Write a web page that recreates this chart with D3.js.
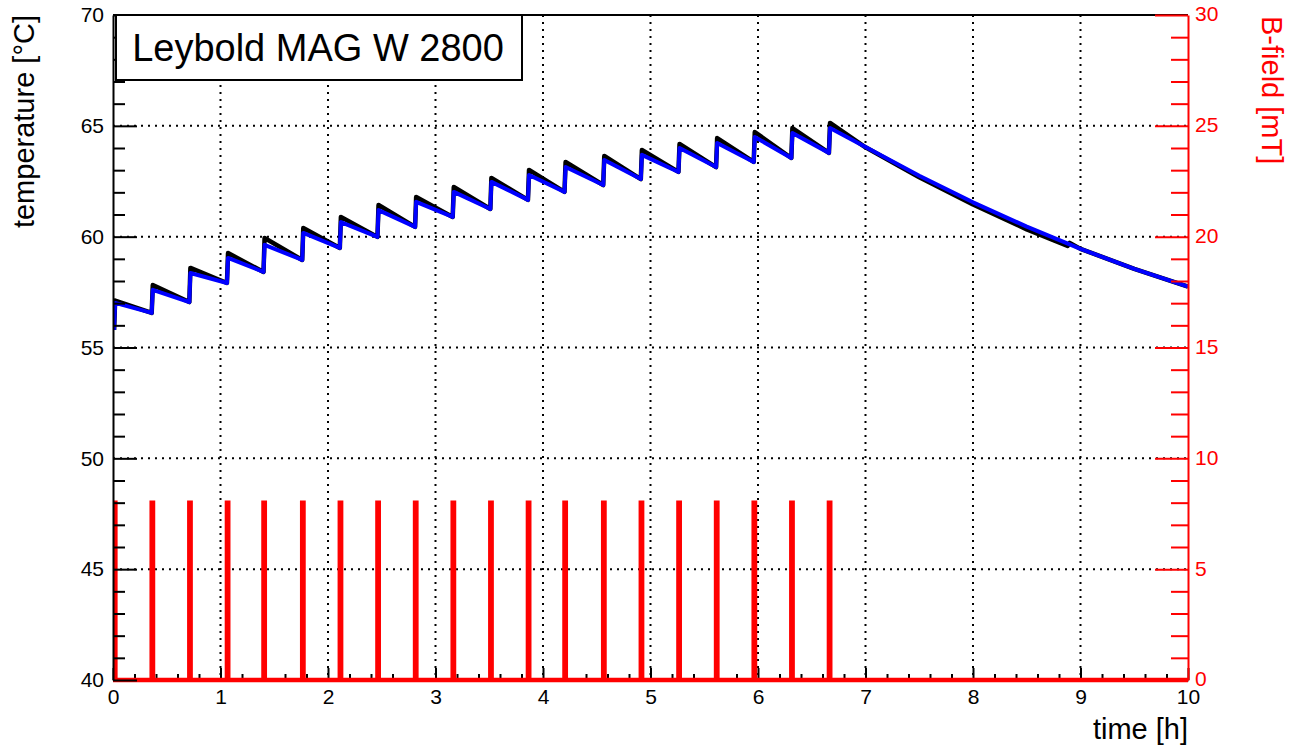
<!DOCTYPE html>
<html><head><meta charset="utf-8">
<script src="https://cdn.jsdelivr.net/npm/d3@7"></script>
<style>
body{margin:0;background:#fff;}
svg text{font-family:"Liberation Sans",Arial,Helvetica,sans-serif;}
</style>
</head><body>
<svg id="chart" width="1289" height="747"></svg>
<script>
// ---- data ----
const pulseTimes = [0.01, 0.36, 0.71, 1.06, 1.40, 1.76, 2.11, 2.46, 2.81, 3.16,
                    3.51, 3.86, 4.20, 4.56, 4.91, 5.26, 5.61, 5.96, 6.31, 6.66];
const pulseField = [8, 8, 8, 8, 8, 8, 8, 8, 8, 8, 8, 8, 8, 8, 8, 8, 8, 8, 8, 8]; // mT
const tempBeforePulse = [55.79, 56.56, 57.05, 57.91, 58.41, 58.95, 59.49, 59.99, 60.44, 60.89,
                         61.25, 61.66, 62.02, 62.33, 62.60, 62.92, 63.14, 63.37, 63.55, 63.78];
const fitAfterPulse   = [57.01, 57.60, 58.36, 59.04, 59.63, 60.17, 60.66, 61.20, 61.57, 62.02,
                         62.47, 62.78, 63.14, 63.46, 63.69, 64.00, 64.23, 64.50, 64.68, 64.90];
const measPeak        = [57.12, 57.82, 58.59, 59.26, 59.94, 60.39, 60.89, 61.43, 61.79, 62.24,
                         62.65, 63.01, 63.37, 63.64, 63.91, 64.18, 64.45, 64.72, 64.90, 65.13];
const coolTimes = [7.0, 7.5, 8.0, 8.5, 9.0, 9.5, 10.0];
const coolFit   = [64.05, 62.75, 61.55, 60.45, 59.45, 58.55, 57.75];
const coolMeasTimes = [7.0, 7.5, 8.0, 8.5, 8.88, 8.9, 9.0, 9.5, 10.0];
const coolMeas      = [64.03, 62.68, 61.45, 60.33, 59.58, 59.72, 59.45, 58.55, 57.75];

const timeTicks  = [0, 1, 2, 3, 4, 5, 6, 7, 8, 9, 10];
const tempTicks  = [40, 45, 50, 55, 60, 65, 70];
const fieldTicks = [0, 5, 10, 15, 20, 25, 30];
const titleText = "Leybold MAG W 2800";

// ---- layout ----
const L = 113, R = 1188, T = 15, B = 680;
const svg = d3.select("#chart");
const x = d3.scaleLinear().domain([0, 10]).range([L, R]);
const y = d3.scaleLinear().domain([40, 70]).range([B, T]);
const yB = d3.scaleLinear().domain([0, 30]).range([B, T]);

// grid
const grid = svg.append("g").attr("stroke", "#000").attr("stroke-width", 2)
  .attr("stroke-dasharray", "2,5");
grid.selectAll(".gx").data(timeTicks.slice(1, -1)).join("line")
  .attr("x1", d => x(d)).attr("x2", d => x(d)).attr("y1", T).attr("y2", B);
grid.selectAll(".gy").data(tempTicks.slice(1, -1)).join("line")
  .attr("x1", L).attr("x2", R).attr("y1", d => y(d)).attr("y2", d => y(d));

// frame top
svg.append("line").attr("x1", L).attr("x2", R).attr("y1", T).attr("y2", T)
  .attr("stroke", "#000").attr("stroke-width", 2);

// clip
svg.append("clipPath").attr("id", "clip").append("rect")
  .attr("x", L).attr("y", T).attr("width", R - L).attr("height", B - T);

// temperature series
const fitPts = [], measPts = [];
pulseTimes.forEach((t, i) => {
  fitPts.push([t, tempBeforePulse[i]]);
  fitPts.push([t + 0.01, fitAfterPulse[i]]);
  measPts.push([t, tempBeforePulse[i]]);
  measPts.push([t + 0.01, measPeak[i]]);
});
coolMeasTimes.forEach((t, i) => measPts.push([t, coolMeas[i]]));
coolTimes.forEach((t, i) => fitPts.push([t, coolFit[i]]));

const line = d3.line().x(d => x(d[0])).y(d => y(d[1]));
const dataG = svg.append("g").attr("clip-path", "url(#clip)");
dataG.append("path").attr("d", line(measPts)).attr("fill", "none")
  .attr("stroke", "#000").attr("stroke-width", 4.5).attr("stroke-linejoin", "round");
dataG.append("path").attr("d", line(fitPts)).attr("fill", "none")
  .attr("stroke", "#0000ff").attr("stroke-width", 4).attr("stroke-linejoin", "round");

// B-field pulses
const bPts = [[0, 0]];
pulseTimes.forEach((t, i) => {
  bPts.push([t, 0]); bPts.push([t, pulseField[i]]);
  bPts.push([t + 0.012, pulseField[i]]); bPts.push([t + 0.012, 0]);
});
bPts.push([10, 0]);
const bLine = d3.line().x(d => x(d[0])).y(d => yB(d[1]));

// axes
function styleAxis(g, color, size) {
  g.selectAll("path.domain").attr("stroke", color).attr("stroke-width", 2);
  g.selectAll(".tick line").attr("stroke", color).attr("stroke-width", 2);
  g.selectAll(".tick text").attr("fill", color)
    .style("font-family", '"Liberation Sans",Arial,sans-serif').style("font-size", size + "px");
}
const minorTemp = d3.range(41, 70).filter(v => v % 5 !== 0);
const minorTime = d3.range(1, 50).filter(v => v % 5 !== 0).map(v => v / 5);
const minorField = d3.range(1, 30).filter(v => v % 5 !== 0);

// bottom axis
const gxMinor = svg.append("g").attr("transform", `translate(0,${B})`)
  .call(d3.axisBottom(x).tickValues(minorTime).tickSize(-6).tickFormat(""));
styleAxis(gxMinor, "#000", 21); gxMinor.select(".domain").remove();
const gx = svg.append("g").attr("transform", `translate(0,${B})`)
  .call(d3.axisBottom(x).tickValues(timeTicks).tickSize(-12).tickSizeOuter(0).tickPadding(9).tickFormat(d3.format("d")));
styleAxis(gx, "#000", 21);

// red B-field curve (over bottom axis)
svg.append("clipPath").attr("id", "clip2").append("rect")
  .attr("x", L).attr("y", T).attr("width", R - L).attr("height", B - T + 4);
svg.append("path").attr("d", bLine(bPts)).attr("fill", "none")
  .attr("stroke", "#ff0000").attr("stroke-width", 4.5).attr("stroke-linejoin", "miter")
  .attr("clip-path", "url(#clip2)");

// left axis
const gyMinor = svg.append("g").attr("transform", `translate(${L},0)`)
  .call(d3.axisLeft(y).tickValues(minorTemp).tickSize(-12).tickFormat(""));
styleAxis(gyMinor, "#000", 21); gyMinor.select(".domain").remove();
const gy = svg.append("g").attr("transform", `translate(${L},0)`)
  .call(d3.axisLeft(y).tickValues(tempTicks).tickSize(-24).tickSizeOuter(0).tickPadding(9).tickFormat(d3.format("d")));
styleAxis(gy, "#000", 21);

// right axis (red)
const grMinor = svg.append("g").attr("transform", `translate(${R},0)`)
  .call(d3.axisRight(yB).tickValues(minorField).tickSize(-17).tickFormat(""));
styleAxis(grMinor, "#ff0000", 21); grMinor.select(".domain").remove();
const gr = svg.append("g").attr("transform", `translate(${R},0)`)
  .call(d3.axisRight(yB).tickValues(fieldTicks).tickSize(-33).tickSizeOuter(0).tickPadding(7).tickFormat(d3.format("d")));
styleAxis(gr, "#ff0000", 21);
gr.selectAll(".tick text").attr("dy", "0.28em");

// axis titles
svg.append("text").attr("transform", "translate(34,15) rotate(-90)")
  .attr("text-anchor", "end").attr("font-size", 29).attr("fill", "#000")
  .text("temperature [°C]");
svg.append("text").attr("transform", "translate(1262,16) rotate(90)")
  .attr("text-anchor", "start").attr("font-size", 29).attr("fill", "#ff0000")
  .text("B-field [mT]");
svg.append("text").attr("x", R).attr("y", 739)
  .attr("text-anchor", "end").attr("font-size", 29).attr("fill", "#000")
  .text("time [h]");

// title box
svg.append("rect").attr("x", 116).attr("y", 15).attr("width", 406).attr("height", 65)
  .attr("fill", "#fff").attr("stroke", "#000").attr("stroke-width", 2);
svg.append("text").attr("x", 318).attr("y", 61).attr("text-anchor", "middle")
  .attr("font-size", 38).attr("fill", "#000").text(titleText);
</script>
</body></html>
